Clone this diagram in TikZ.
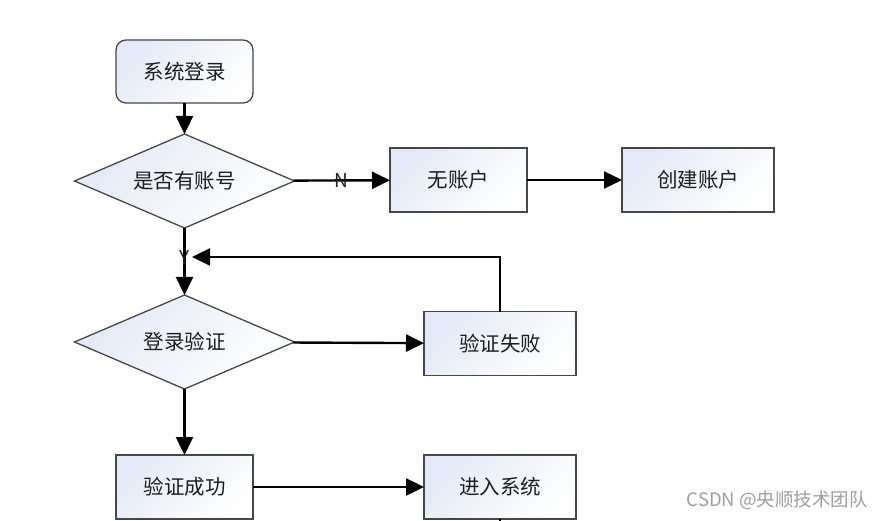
\documentclass[tikz,border=0pt]{standalone}
\usepackage{fontspec}
\setmainfont{Noto Sans CJK SC}
\usetikzlibrary{arrows.meta,shapes.geometric}
\definecolor{fillblue}{HTML}{E3E9F6}
\definecolor{edgecol}{HTML}{474747}
\definecolor{txt}{HTML}{1E1E1E}
\begin{document}
\begin{tikzpicture}[x=1pt,y=-1pt,
  base/.style={draw=edgecol, line width=1.3pt, top color=fillblue, bottom color=white, shading angle=45,
    inner sep=0pt, outer sep=0pt, text=txt, font=\fontsize{20.5}{24}\selectfont},
  box/.style={base, rectangle, minimum width=#1, minimum height=64pt},
  rbox/.style={base, rectangle, rounded corners=10pt, minimum width=#1, minimum height=63pt},
  dia/.style={base, diamond, aspect=2.3, minimum width=220pt, minimum height=94pt},
  arr/.style={line width=2.4pt, -{Triangle[length=18pt,width=17pt]}},
  lbl/.style={font=\fontsize{19}{22}\selectfont, text=txt, inner sep=0pt}
]
\fill[white] (0,0) rectangle (885,521);
\useasboundingbox (0,0) rectangle (885,521);

\node[rbox=137pt] (login) at (184.5,71.5) {系统登录};
\node[dia] (d1) at (184.5,181) {是否有账号};
\node[box=137pt] (noacc) at (458.5,180) {无账户};
\node[box=152pt] (create) at (698,180) {创建账户};
\node[dia] (d2) at (184.5,342) {登录验证};
\node[box=152pt] (fail) at (500,343.5) {验证失败};
\node[box=137pt] (ok) at (184.5,487) {验证成功};
\node[box=152pt] (enter) at (500,487) {进入系统};

\coordinate (yend) at (192,257);
\coordinate (stub) at (500,521);

\draw[arr] (login) -- (d1);
\draw[arr] (d1) -- node[lbl]{N} (noacc);
\draw[arr] (noacc) -- (create);
\draw[arr] (d1) -- node[lbl,pos=0.44]{Y} (d2);
\draw[arr] (fail.north) |- (yend);
\draw[arr] (d2) -- (fail);
\draw[arr] (d2) -- (ok);
\draw[arr] (ok) -- (enter);
\draw[line width=1.3pt] (enter.south) -- (stub);

\node[text=gray!75, font=\fontsize{18.5}{22}\selectfont, anchor=east, inner sep=0pt] (wm) at (868,500) {CSDN @央顺技术团队};
\end{tikzpicture}
\end{document}
